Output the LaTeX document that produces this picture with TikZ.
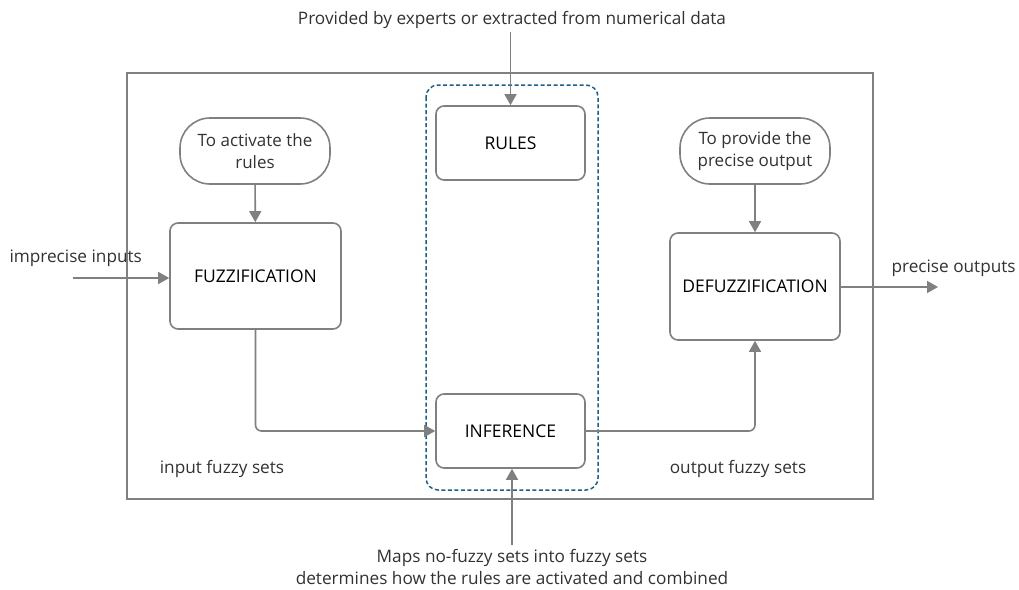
\documentclass[tikz,border=0pt]{standalone}
\usepackage{fontspec}
\setmainfont{Open Sans}
\usetikzlibrary{arrows.meta}
\definecolor{linegray}{RGB}{128,128,128}
\definecolor{dashblue}{RGB}{30,95,135}
\definecolor{txtgray}{RGB}{50,50,50}
\tikzset{
  blockbox/.style={draw=linegray, line width=1.6pt, rounded corners=8pt, fill=white, font=\fontsize{17.5}{20}\selectfont, text=black},
  pill/.style={draw=linegray, line width=1.6pt, rounded corners=30pt, minimum width=150pt, minimum height=66pt, align=center, font=\fontsize{17}{22}\selectfont, text=txtgray},
  label/.style={font=\fontsize{17.2}{22}\selectfont, text=txtgray, align=center},
  arr/.style={draw=linegray, line width=1.6pt, -{Triangle[length=11pt, width=12pt]}}
}
\begin{document}
\begin{tikzpicture}[x=1pt, y=-1pt]
            \useasboundingbox (0,0) rectangle (1019,589);
            \draw[linegray, line width=1.6pt] (127,73) rectangle (873,499);
            \draw[dashblue, line width=1.5pt, dashed, dash pattern=on 4pt off 2.5pt, rounded corners=12pt] (426,85) rectangle (598,490);

            \node[blockbox, minimum width=149pt, minimum height=74pt] (rules) at (510.5,143) {RULES};
            \node[blockbox, minimum width=149pt, minimum height=74pt] (infer) at (510.5,431) {INFERENCE};
            \node[blockbox, minimum width=171pt, minimum height=106pt] (fuzz) at (255.5,276) {FUZZIFICATION};
            \node[blockbox, minimum width=170pt, minimum height=107pt] (defuzz) at (755,286.5) {DEFUZZIFICATION};

            \node[pill] (activate) at (255,151) {To activate the\\rules};
            \node[pill] (provide) at (755,151) {To provide the\\precise output};

            \node[label] (experts) at (512,20) {Provided by experts or extracted from numerical data};
            \node[label] (maps) at (512,567) {Maps no-fuzzy sets into fuzzy sets\\determines how the rules are activated and combined};
            \node[label, anchor=west] (inputs) at (6,258) {imprecise inputs};
            \node[label, anchor=west] (outputs) at (888,268) {precise outputs};
            \node[label] (infz) at (222,469) {input fuzzy sets};
            \node[label] (outfz) at (738,469) {output fuzzy sets};

            \coordinate (inL) at (73,278);
            \coordinate (outR) at (938,287);
            \coordinate (mapsT) at (512,545);

            \draw[arr] (experts.south -| rules.north) -- (rules.north);
            \draw[arr] (activate) -- (fuzz);
            \draw[arr] (provide) -- (defuzz);
            \draw[arr] (inL) -- (inL -| fuzz.west);
            \draw[arr] (defuzz.east |- outR) -- (outR);
            \draw[arr, rounded corners=6pt] (fuzz.south) |- (infer.west);
            \draw[arr, rounded corners=6pt] (infer.east) -| (defuzz.south);
            \draw[arr] (mapsT) -- (mapsT |- infer.south);
        \end{tikzpicture}
\end{document}
